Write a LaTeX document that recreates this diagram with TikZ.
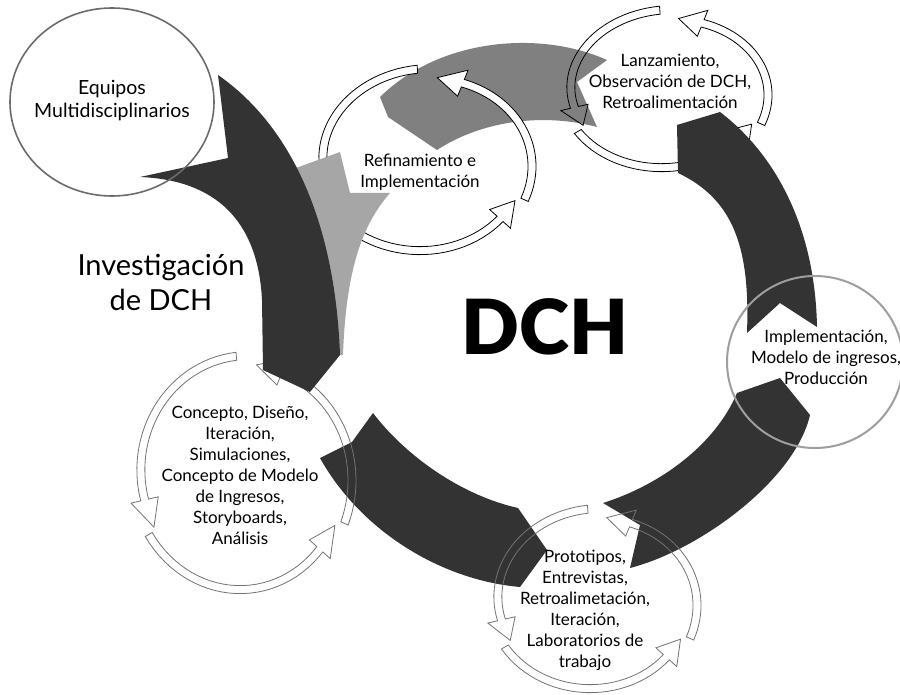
\documentclass[tikz,border=0pt]{standalone}
\usepackage{fontspec}
\setmainfont{Lato}
\newfontfamily\blackfont{Lato Black}

\newcommand{\cyclearrows}[5]{%
  \foreach \ta/\hb in {24/-68, -94/-193, 150/42} {
    \draw[#5] plot[domain=\ta:\hb,samples=30] ({#1+(#3+1+8*(\x-\hb)/(\ta-\hb))*cos(\x)},{#2+(#4+1+8*(\x-\hb)/(\ta-\hb))*sin(\x)})
      -- ({#1+(#3+11)*cos(\hb)},{#2+(#4+11)*sin(\hb)})
      -- ({#1+(#3-3)*cos(\hb-15)},{#2+(#4-3)*sin(\hb-15)})
      -- ({#1+(#3-17)*cos(\hb)},{#2+(#4-17)*sin(\hb)})
      -- plot[domain=\hb:\ta,samples=30] ({#1+(#3-7+8*(\x-\hb)/(\ta-\hb))*cos(\x)},{#2+(#4-7+8*(\x-\hb)/(\ta-\hb))*sin(\x)})
      -- cycle;
  }}

\begin{document}
\begin{tikzpicture}[x=1pt,y=-1pt,
    darkseg/.style={fill=black!80},
    midseg/.style={fill=black!50},
    lightseg/.style={fill=black!35},
    label/.style={align=center,font=\fontsize{17}{21}\selectfont}]
  \useasboundingbox[fill=white] (0,0) rectangle (900,695);

  \fill[midseg] (607,60) .. controls (540,30) and (440,38) .. (380,97) -- (388,117)
    -- (437,150) .. controls (480,122) and (540,112) .. (597,127) -- (577,82) -- cycle;

  \cyclearrows{667}{91}{98}{76}{black,line width=0.8pt}
  \cyclearrows{425}{162}{104}{88}{black,fill=white,line width=0.8pt}

  \fill[lightseg] (340,152) -- (350,193) -- (390,193) .. controls (362,225) and (346,270) .. (343,355)
    -- (290,355) -- (285,172) -- cycle;

  \fill[darkseg] (677,125) -- (720,112) .. controls (770,150) and (815,220) .. (817,327)
    -- (780,303) -- (747,333) .. controls (750,250) and (735,200) .. (678,173) -- cycle;
  \fill[darkseg] (737,393) -- (780,378) -- (810,415) .. controls (795,480) and (700,550) .. (630,568)
    -- (640,525) -- (603,503) .. controls (660,485) and (715,445) .. (737,393) -- cycle;
  \fill[darkseg] (373,413) -- (352,442) -- (320,458) .. controls (360,530) and (440,580) .. (520,587)
    -- (547,550) -- (518,508) .. controls (460,495) and (405,455) .. (373,413) -- cycle;

  \cyclearrows{595}{601}{99}{87}{black!55,line width=0.8pt}
  \cyclearrows{244}{475}{105}{114}{black!55,line width=0.8pt}

  \fill[darkseg] (218,75) .. controls (290,125) and (335,220) .. (340,355) -- (310,392) -- (263,370)
    -- (262,300) .. controls (258,220) and (215,180) .. (140,177) -- (228,158) -- cycle;

  \draw[black!58,line width=1.6pt] (112,102) ellipse [x radius=102,y radius=94];
  \draw[black!38,line width=2pt] (815,362) ellipse [x radius=88,y radius=86];

  \node[label,font=\fontsize{19.5}{23}\selectfont] (equipos) at (112,101) {Equipos\\Multidisciplinarios};
  \node[label] (lanza) at (670,81) {Lanzamiento,\\Observación de DCH,\\Retroalimentación};
  \node[label] (refin) at (420,172) {Refinamiento e\\Implementación};
  \node[label] (impl) at (826,357) {Implementación,\\Modelo de ingresos,\\Producción};
  \node[label] (proto) at (585,610) {Prototipos,\\Entrevistas,\\Retroalimetación,\\Iteración,\\Laboratorios de\\trabajo};
  \node[label] (concepto) at (240,475) {Concepto, Diseño,\\Iteración,\\Simulaciones,\\Concepto de Modelo\\de Ingresos,\\Storyboards,\\Análisis};
  \node[align=center,font=\fontsize{29}{35}\selectfont] (invest) at (161,282) {Investigación\\de DCH};
  \node[font=\fontsize{76}{76}\selectfont\blackfont] (dch) at (545,327) {DCH};
\end{tikzpicture}
\end{document}
